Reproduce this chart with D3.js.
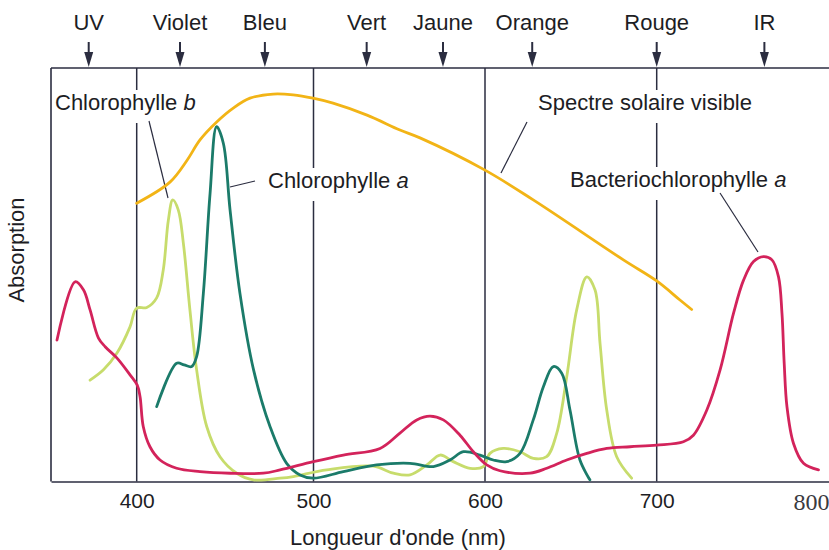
<!DOCTYPE html>
<html>
<head>
<meta charset="utf-8">
<script src="https://cdn.jsdelivr.net/npm/d3@7"></script>
<style>
    body { margin: 0; background: #fff; }
    svg text { font-family: "Liberation Sans", Arial, sans-serif; fill: #1d1d24; }
</style>
</head>
<body>
<div id="chart"></div>
<script>

// colour bands above the plot (wavelength each arrow points at, nm)
var bandNames = ["UV", "Violet", "Bleu", "Vert", "Jaune", "Orange", "Rouge", "IR"];
var bandNm = [372, 424.5, 472.5, 531, 575.5, 627.5, 700, 762.5];

var gridNm = [400, 500, 600, 700];
var tickNm = [400, 500, 600, 700, 800];

// absorption curves, [wavelength nm, relative absorption 0-100]
var solar = [[400, 67.3], [418.8, 72.4], [428.5, 77.7], [435.8, 82.6], [445.4, 87.0],
    [454.6, 90.3], [464.1, 92.7], [477.2, 93.7], [488.5, 93.5], [499.7, 92.7], [511.4, 91.5],
    [531.2, 88.6], [550.4, 85.0], [562.1, 83.1], [600, 75.3], [628.1, 68.1], [680.6, 53.6],
    [700, 48.5], [713.5, 43.9], [720.3, 41.6]];

var chlB = [[372.8, 24.5], [380.6, 27.0], [388.4, 31.0], [396.1, 37.4], [399.9, 41.9], [405.7, 42.1],
    [411.3, 44.4], [415, 51.1], [417.9, 63.2], [420.4, 68.1], [423.5, 65.7], [426.4, 57.6],
    [430.1, 41.5], [433.9, 27.0], [439.6, 13.3], [447.1, 6.0], [456.6, 2.0], [466, 0.4],
    [481.1, 0.8], [488.6, 1.2], [507.7, 2.8], [534.9, 3.7], [546.6, 2.0], [556.3, 1.6],
    [566.1, 4.0], [573.8, 6.4], [581.5, 4.8], [591.3, 3.2], [599, 3.6], [602.9, 6.8],
    [610.6, 8.0], [620.4, 7.2], [628.1, 5.6], [635.9, 6.0], [641.8, 11.7], [647.6, 25.3],
    [653.4, 41.5], [659.3, 49.5], [664.1, 46.3], [667, 33.4], [670.9, 17.3], [676.7, 6.0],
    [685.4, 0.8]];

var chlA = [[411.3, 18.1], [422.6, 28.6], [426.8, 28.2], [431.1, 27.8], [433.9, 30.2], [437.7, 45.5],
    [441.5, 69.7], [445.2, 85.8], [449, 81.8], [452.8, 65.7], [458.4, 45.5], [466.1, 27.0],
    [475.4, 13.3], [484.8, 4.4], [492.4, 1.6], [499.9, 0.8], [517.4, 2.4], [536.8, 4.0],
    [556.3, 4.4], [569.9, 3.6], [579.6, 5.2], [587.4, 7.2], [597.1, 6.4], [604.8, 5.2],
    [612.6, 4.8], [620.4, 6.8], [628.1, 14.9], [634, 22.9], [639.8, 27.8], [644.7, 26.2],
    [649.5, 17.3], [655.3, 5.2], [661.1, 0.4]];

var bchlA = [[353.5, 34.2], [364.1, 48.3], [369, 46.3], [372.8, 41.5], [377.7, 34.7], [381.6, 32.6],
    [388.4, 29.9], [396.1, 25.8], [400.3, 23.3], [401.9, 20.5], [403.7, 13.3], [407.5, 8.4],
    [413.2, 5.2], [422.6, 3.2], [435.8, 2.4], [452.8, 2.0], [471.6, 2.0], [481.1, 2.8],
    [499.9, 4.8], [517.4, 6.4], [538.8, 8.0], [550.4, 11.7], [560.2, 14.9], [567.9, 15.8],
    [575.7, 14.9], [585.4, 11.2], [593.2, 7.2], [601, 4.0], [608.7, 2.6], [626.2, 2.0],
    [636, 3.2], [647.6, 5.2], [659.3, 6.8], [670.9, 8.0], [684.5, 8.4], [700, 8.8],
    [715.5, 9.6], [721.3, 11.2], [729.1, 17.3], [736.8, 27.0], [744.6, 40.7], [750.4, 48.7],
    [756.2, 53.2], [762, 54.4], [766.9, 53.6], [770.7, 49.5], [772.7, 40.7], [774, 28.6],
    [775.6, 18.1], [779.4, 9.2], [785.2, 4.4], [793.9, 2.8]];


var width = 829, height = 550;
var ink = "#2b2d40";

var svg = d3.select("#chart").append("svg")
    .attr("width", width)
    .attr("height", height);

// the printed axis is not quite even, so the scale follows the drawn gridlines
var x = d3.scaleLinear()
    .domain([350, 400, 500, 600, 700, 800])
    .range([51, 136.7, 313.5, 485, 656.7, 829]);

var y = d3.scaleLinear()
    .domain([0, 100])
    .range([481.5, 68]);

// frame
svg.append("line")
    .attr("x1", x(350)).attr("x2", x(800))
    .attr("y1", y(100)).attr("y2", y(100))
    .attr("stroke", ink).attr("stroke-width", 1.6);

svg.append("line")
    .attr("x1", x(350)).attr("x2", x(350))
    .attr("y1", y(100)).attr("y2", y(0))
    .attr("stroke", ink).attr("stroke-width", 1.6);

svg.selectAll(".grid")
    .data(gridNm)
    .enter().append("line")
    .attr("class", "grid")
    .attr("x1", function(d) { return x(d); })
    .attr("x2", function(d) { return x(d); })
    .attr("y1", y(100))
    .attr("y2", y(0))
    .attr("stroke", ink)
    .attr("stroke-width", 1.5);

// bottom axis
var xAxis = d3.axisBottom(x)
    .tickValues(tickNm)
    .tickSize(0)
    .tickPadding(11.5)
    .tickFormat(d3.format("d"));

var gx = svg.append("g")
    .attr("transform", "translate(0," + y(0) + ")")
    .call(xAxis);

gx.attr("font-family", null).attr("font-size", null);
gx.select(".domain").attr("stroke", ink).attr("stroke-width", 1.6);
gx.selectAll(".tick text")
    .attr("font-size", 21)
    .attr("fill", "#1d1d24");
// the last label was set in a serif face in the original
gx.selectAll(".tick text")
    .filter(function(d) { return d === 800; })
    .attr("text-anchor", "end")
    .attr("dy", "0.7em")
    .style("font-family", "'Liberation Serif', 'DejaVu Serif', serif")
    .attr("font-size", 24)
    .style("fill", "#3a3a40");

// axis titles
svg.append("text")
    .attr("x", 398)
    .attr("y", 545)
    .attr("text-anchor", "middle")
    .attr("font-size", 22)
    .text("Longueur d'onde (nm)");

svg.append("text")
    .attr("transform", "translate(24,250) rotate(-90)")
    .attr("text-anchor", "middle")
    .attr("font-size", 22)
    .text("Absorption");

// colour bands with arrows
var bands = svg.selectAll(".band")
    .data(bandNames)
    .enter().append("g")
    .attr("class", "band")
    .attr("transform", function(d, i) { return "translate(" + x(bandNm[i]) + ",0)"; });

bands.append("text")
    .attr("y", 30)
    .attr("text-anchor", "middle")
    .attr("font-size", 22)
    .text(function(d) { return d; });

bands.append("line")
    .attr("y1", 42).attr("y2", 54)
    .attr("stroke", ink).attr("stroke-width", 2);

bands.append("path")
    .attr("d", "M-4.5,52L4.5,52L0,67Z")
    .attr("fill", ink);

// labels sit on white so the gridlines break around them
function addLabel(px, py, parts) {
    var g = svg.append("g");
    var t = g.append("text")
        .attr("x", px)
        .attr("y", py)
        .attr("font-size", 22);
    parts.forEach(function(p) {
        t.append("tspan")
            .style("font-style", p[1] ? "italic" : "normal")
            .text(p[0]);
    });
    var bb = t.node().getBBox();
    g.insert("rect", "text")
        .attr("x", bb.x - 3)
        .attr("y", bb.y)
        .attr("width", bb.width + 6)
        .attr("height", bb.height + 8)
        .attr("fill", "#fff");
}

function leader(x1, y1, x2, y2) {
    svg.append("line")
        .attr("x1", x1).attr("y1", y1)
        .attr("x2", x2).attr("y2", y2)
        .attr("stroke", ink)
        .attr("stroke-width", 1.2);
}

addLabel(55, 110, [["Chlorophylle ", false], ["b", true]]);
addLabel(268, 188, [["Chlorophylle ", false], ["a", true]]);
addLabel(538, 110, [["Spectre solaire visible", false]]);
addLabel(570, 187, [["Bacteriochlorophylle ", false], ["a", true]]);

leader(149, 121, 168, 198);
leader(230, 187, 255, 181);
leader(527, 122, 501, 173);
leader(720, 193, 758, 252);

// curves
var line = d3.line()
    .x(function(d) { return x(d[0]); })
    .y(function(d) { return y(d[1]); })
    .curve(d3.curveCatmullRom.alpha(0.5));

var series = [
    {name: "chlB", data: chlB, color: "#c7dc6c"},
    {name: "chlA", data: chlA, color: "#1b7b6a"},
    {name: "bchlA", data: bchlA, color: "#d3235b"},
    {name: "solar", data: solar, color: "#f2b416"}
];

svg.selectAll(".curve")
    .data(series)
    .enter().append("path")
    .attr("class", "curve")
    .attr("d", function(d) { return line(d.data); })
    .attr("fill", "none")
    .attr("stroke", function(d) { return d.color; })
    .attr("stroke-width", 2.8)
    .attr("stroke-linejoin", "round")
    .attr("stroke-linecap", "round");

</script>
</body>
</html>
